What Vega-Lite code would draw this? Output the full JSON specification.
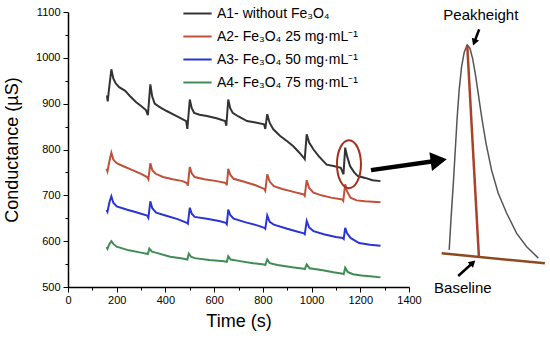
{
  "$schema": "https://vega.github.io/schema/vega-lite/v6.json",
  "width": 341,
  "height": 275,
  "autosize": {"type": "none"},
  "padding": {"left": 68, "top": 12, "right": 141, "bottom": 51},
  "background": "white",
  "config": {"font": "Liberation Sans", "view": {"stroke": null}},
  "datasets": {
    "main": [
      {"s":"A1","t":160,"c":918},{"s":"A1","t":163,"c":905},{"s":"A1","t":168,"c":930},{"s":"A1","t":178,"c":975},{"s":"A1","t":186,"c":955},{"s":"A1","t":195,"c":945},{"s":"A1","t":210,"c":936},{"s":"A1","t":235,"c":928},{"s":"A1","t":255,"c":916},{"s":"A1","t":280,"c":903},{"s":"A1","t":300,"c":895},{"s":"A1","t":320,"c":886},{"s":"A1","t":328,"c":875},{"s":"A1","t":338,"c":942},{"s":"A1","t":346,"c":915},{"s":"A1","t":356,"c":900},{"s":"A1","t":375,"c":893},{"s":"A1","t":405,"c":884},{"s":"A1","t":430,"c":877},{"s":"A1","t":460,"c":869},{"s":"A1","t":485,"c":862},{"s":"A1","t":490,"c":845},{"s":"A1","t":500,"c":909},{"s":"A1","t":508,"c":890},{"s":"A1","t":518,"c":880},{"s":"A1","t":540,"c":876},{"s":"A1","t":570,"c":873},{"s":"A1","t":610,"c":868},{"s":"A1","t":645,"c":862},{"s":"A1","t":650,"c":852},{"s":"A1","t":658,"c":909},{"s":"A1","t":666,"c":890},{"s":"A1","t":676,"c":880},{"s":"A1","t":700,"c":872},{"s":"A1","t":735,"c":862},{"s":"A1","t":770,"c":859},{"s":"A1","t":805,"c":855},{"s":"A1","t":810,"c":845},{"s":"A1","t":818,"c":877},{"s":"A1","t":828,"c":858},{"s":"A1","t":843,"c":844},{"s":"A1","t":870,"c":830},{"s":"A1","t":900,"c":818},{"s":"A1","t":925,"c":807},{"s":"A1","t":950,"c":793},{"s":"A1","t":968,"c":782},{"s":"A1","t":972,"c":779},{"s":"A1","t":980,"c":833},{"s":"A1","t":990,"c":815},{"s":"A1","t":1008,"c":800},{"s":"A1","t":1030,"c":785},{"s":"A1","t":1062,"c":767},{"s":"A1","t":1090,"c":764},{"s":"A1","t":1120,"c":760},{"s":"A1","t":1131,"c":746},{"s":"A1","t":1138,"c":804},{"s":"A1","t":1146,"c":785},{"s":"A1","t":1158,"c":764},{"s":"A1","t":1175,"c":750},{"s":"A1","t":1190,"c":742},{"s":"A1","t":1220,"c":738},{"s":"A1","t":1250,"c":733},{"s":"A1","t":1283,"c":731},
      {"s":"A2","t":158,"c":758},{"s":"A2","t":162,"c":752},{"s":"A2","t":170,"c":775},{"s":"A2","t":178,"c":793},{"s":"A2","t":186,"c":778},{"s":"A2","t":200,"c":770},{"s":"A2","t":225,"c":764},{"s":"A2","t":260,"c":756},{"s":"A2","t":300,"c":747},{"s":"A2","t":325,"c":740},{"s":"A2","t":330,"c":735},{"s":"A2","t":338,"c":770},{"s":"A2","t":346,"c":755},{"s":"A2","t":360,"c":747},{"s":"A2","t":390,"c":740},{"s":"A2","t":430,"c":735},{"s":"A2","t":470,"c":731},{"s":"A2","t":488,"c":727},{"s":"A2","t":492,"c":721},{"s":"A2","t":500,"c":762},{"s":"A2","t":508,"c":748},{"s":"A2","t":520,"c":740},{"s":"A2","t":560,"c":735},{"s":"A2","t":610,"c":731},{"s":"A2","t":648,"c":727},{"s":"A2","t":652,"c":722},{"s":"A2","t":658,"c":758},{"s":"A2","t":666,"c":745},{"s":"A2","t":680,"c":736},{"s":"A2","t":720,"c":730},{"s":"A2","t":770,"c":722},{"s":"A2","t":806,"c":714},{"s":"A2","t":810,"c":710},{"s":"A2","t":818,"c":746},{"s":"A2","t":828,"c":730},{"s":"A2","t":845,"c":720},{"s":"A2","t":880,"c":714},{"s":"A2","t":930,"c":707},{"s":"A2","t":968,"c":702},{"s":"A2","t":972,"c":699},{"s":"A2","t":980,"c":733},{"s":"A2","t":990,"c":716},{"s":"A2","t":1008,"c":706},{"s":"A2","t":1040,"c":700},{"s":"A2","t":1080,"c":695},{"s":"A2","t":1126,"c":691},{"s":"A2","t":1130,"c":688},{"s":"A2","t":1138,"c":724},{"s":"A2","t":1146,"c":708},{"s":"A2","t":1160,"c":695},{"s":"A2","t":1185,"c":689},{"s":"A2","t":1220,"c":687},{"s":"A2","t":1283,"c":685},
      {"s":"A3","t":158,"c":668},{"s":"A3","t":162,"c":664},{"s":"A3","t":170,"c":685},{"s":"A3","t":178,"c":698},{"s":"A3","t":186,"c":684},{"s":"A3","t":200,"c":676},{"s":"A3","t":240,"c":669},{"s":"A3","t":280,"c":663},{"s":"A3","t":325,"c":656},{"s":"A3","t":330,"c":651},{"s":"A3","t":338,"c":687},{"s":"A3","t":346,"c":672},{"s":"A3","t":362,"c":662},{"s":"A3","t":400,"c":656},{"s":"A3","t":450,"c":648},{"s":"A3","t":488,"c":640},{"s":"A3","t":492,"c":638},{"s":"A3","t":500,"c":673},{"s":"A3","t":508,"c":660},{"s":"A3","t":520,"c":653},{"s":"A3","t":570,"c":649},{"s":"A3","t":620,"c":644},{"s":"A3","t":648,"c":640},{"s":"A3","t":652,"c":637},{"s":"A3","t":658,"c":669},{"s":"A3","t":666,"c":657},{"s":"A3","t":680,"c":649},{"s":"A3","t":730,"c":641},{"s":"A3","t":780,"c":634},{"s":"A3","t":806,"c":629},{"s":"A3","t":810,"c":627},{"s":"A3","t":818,"c":656},{"s":"A3","t":828,"c":642},{"s":"A3","t":845,"c":636},{"s":"A3","t":900,"c":627},{"s":"A3","t":940,"c":621},{"s":"A3","t":968,"c":617},{"s":"A3","t":972,"c":615},{"s":"A3","t":980,"c":644},{"s":"A3","t":990,"c":630},{"s":"A3","t":1008,"c":622},{"s":"A3","t":1050,"c":615},{"s":"A3","t":1100,"c":609},{"s":"A3","t":1128,"c":607},{"s":"A3","t":1132,"c":605},{"s":"A3","t":1138,"c":629},{"s":"A3","t":1146,"c":617},{"s":"A3","t":1160,"c":607},{"s":"A3","t":1195,"c":596},{"s":"A3","t":1240,"c":592},{"s":"A3","t":1283,"c":590},
      {"s":"A4","t":158,"c":587},{"s":"A4","t":162,"c":583},{"s":"A4","t":170,"c":594},{"s":"A4","t":178,"c":600},{"s":"A4","t":186,"c":594},{"s":"A4","t":200,"c":588},{"s":"A4","t":250,"c":580},{"s":"A4","t":300,"c":575},{"s":"A4","t":328,"c":572},{"s":"A4","t":334,"c":584},{"s":"A4","t":345,"c":577},{"s":"A4","t":360,"c":575},{"s":"A4","t":420,"c":566},{"s":"A4","t":470,"c":562},{"s":"A4","t":490,"c":560},{"s":"A4","t":496,"c":573},{"s":"A4","t":505,"c":566},{"s":"A4","t":520,"c":563},{"s":"A4","t":580,"c":559},{"s":"A4","t":640,"c":556},{"s":"A4","t":652,"c":555},{"s":"A4","t":658,"c":567},{"s":"A4","t":668,"c":560},{"s":"A4","t":700,"c":557},{"s":"A4","t":760,"c":552},{"s":"A4","t":805,"c":549},{"s":"A4","t":810,"c":548},{"s":"A4","t":818,"c":560},{"s":"A4","t":828,"c":552},{"s":"A4","t":860,"c":548},{"s":"A4","t":920,"c":543},{"s":"A4","t":968,"c":540},{"s":"A4","t":972,"c":539},{"s":"A4","t":980,"c":549},{"s":"A4","t":992,"c":541},{"s":"A4","t":1040,"c":537},{"s":"A4","t":1090,"c":532},{"s":"A4","t":1128,"c":529},{"s":"A4","t":1132,"c":528},{"s":"A4","t":1138,"c":542},{"s":"A4","t":1148,"c":533},{"s":"A4","t":1170,"c":528},{"s":"A4","t":1205,"c":525},{"s":"A4","t":1250,"c":523},{"s":"A4","t":1283,"c":521}
    ],
    "inset": [
      {"t":1565,"c":581},{"t":1573,"c":653},{"t":1582,"c":726},{"t":1590,"c":799},{"t":1598,"c":872},{"t":1606,"c":930},{"t":1616,"c":981},{"t":1627,"c":1013},{"t":1639,"c":1028},{"t":1650,"c":1021},{"t":1661,"c":999},{"t":1672,"c":966},{"t":1684,"c":923},{"t":1698,"c":872},{"t":1716,"c":814},{"t":1739,"c":755},{"t":1766,"c":705},{"t":1801,"c":661},{"t":1842,"c":617},{"t":1883,"c":588},{"t":1931,"c":563}
    ],
    "notes": [
      {"part":"bigArrow","t":1244,"c":755,"t2":1522,"c2":776},
      {"part":"peakArrow","t":1688,"c":1062,"t2":1668,"c2":1034},
      {"part":"baseArrow","t":1602,"c":524,"t2":1662,"c2":553},
      {"part":"peakLine","t":1639,"c":1028,"t2":1687,"c2":566},
      {"part":"baseLine","t":1534,"c":573.5,"t2":1958,"c2":551.7},
      {"part":"bigHead","t":1522,"c":776},
      {"part":"peakHead","t":1668,"c":1034},
      {"part":"baseHead","t":1662,"c":553},
      {"part":"ellipse","t":1153.5,"c":768},
      {"part":"label","t":1695,"c":1093,"text":"Peakheight"},
      {"part":"label","t":1621,"c":497,"text":"Baseline"}
    ]
  },
  "encoding": {
    "x": {
      "field": "t", "type": "quantitative",
      "scale": {"domain": [0, 1400], "nice": false, "zero": false},
      "axis": {
        "values": [0,100,200,300,400,500,600,700,800,900,1000,1100,1200,1300,1400],
        "format": "d",
        "labelExpr": "datum.value % 200 == 0 ? datum.label : ''",
        "tickSize": {"condition": {"test": "datum.value % 200 == 0", "value": 5}, "value": 3},
        "title": "Time (s)", "titleFontSize": 18, "titleFontWeight": "normal", "titleColor": "black", "titlePadding": 7,
        "labelFontSize": 11, "labelColor": "black", "labelPadding": 2, "labelOverlap": false, "labelFlush": false,
        "domainColor": "black", "domainWidth": 1.5, "tickColor": "black", "tickWidth": 1, "grid": false
      }
    },
    "y": {
      "field": "c", "type": "quantitative",
      "scale": {"domain": [500, 1100], "nice": false, "zero": false},
      "axis": {
        "values": [500,550,600,650,700,750,800,850,900,950,1000,1050,1100],
        "format": "d",
        "labelExpr": "datum.value % 100 == 0 ? datum.label : ''",
        "tickSize": {"condition": {"test": "datum.value % 100 == 0", "value": 5}, "value": 3},
        "title": "Conductance (µS)", "titleFontSize": 18, "titleFontWeight": "normal", "titleColor": "black", "titlePadding": 14,
        "labelFontSize": 11, "labelColor": "black", "labelPadding": 3, "labelOverlap": false, "labelFlush": false,
        "domainColor": "black", "domainWidth": 1.5, "tickColor": "black", "tickWidth": 1, "grid": false
      }
    }
  },
  "layer": [
    {
      "data": {"name": "main"},
      "mark": {"type": "line", "strokeWidth": 2},
      "encoding": {
        "color": {
          "field": "s", "type": "nominal",
          "scale": {"domain": ["A1","A2","A3","A4"], "range": ["#333333","#c0503a","#2a34d4","#3f8c55"]},
          "legend": {
            "title": null, "orient": "none", "legendX": 114, "legendY": -14,
            "symbolType": "stroke", "symbolStrokeWidth": 2, "symbolSize": 800,
            "labelFontSize": 14, "labelColor": "black", "labelOffset": 4, "rowPadding": -8, "labelLimit": 0, "padding": 0,
            "labelExpr": "{'A1': 'A1- without Fe₃O₄', 'A2': 'A2- Fe₃O₄ 25 mg·mL⁻¹', 'A3': 'A3- Fe₃O₄ 50 mg·mL⁻¹', 'A4': 'A4- Fe₃O₄ 75 mg·mL⁻¹'}[datum.label]"
          }
        }
      }
    },
    {
      "data": {"name": "inset"},
      "mark": {"type": "line", "strokeWidth": 1.5, "color": "#555555"},
      "encoding": {}
    },
    {
      "data": {"name": "notes"},
      "transform": [{"filter": "datum.part == 'baseLine'"}],
      "mark": {"type": "rule", "strokeWidth": 2.5, "color": "#8d4a1f"},
      "encoding": {"x2": {"field": "t2"}, "y2": {"field": "c2"}}
    },
    {
      "data": {"name": "notes"},
      "transform": [{"filter": "datum.part == 'peakLine'"}],
      "mark": {"type": "rule", "strokeWidth": 2.5, "color": "#a8432a"},
      "encoding": {"x2": {"field": "t2"}, "y2": {"field": "c2"}}
    },
    {
      "data": {"name": "notes"},
      "transform": [{"filter": "datum.part == 'bigArrow'"}],
      "mark": {"type": "rule", "strokeWidth": 4.5, "color": "black"},
      "encoding": {"x2": {"field": "t2"}, "y2": {"field": "c2"}}
    },
    {
      "data": {"name": "notes"},
      "transform": [{"filter": "datum.part == 'peakArrow' || datum.part == 'baseArrow'"}],
      "mark": {"type": "rule", "strokeWidth": 2.5, "color": "black"},
      "encoding": {"x2": {"field": "t2"}, "y2": {"field": "c2"}}
    },
    {
      "data": {"name": "notes"},
      "transform": [{"filter": "datum.part == 'bigHead'"}],
      "mark": {"type": "point", "shape": "triangle-up", "angle": 82, "size": 350, "filled": true, "color": "black", "opacity": 1}
    },
    {
      "data": {"name": "notes"},
      "transform": [{"filter": "datum.part == 'peakHead'"}],
      "mark": {"type": "point", "shape": "triangle-up", "angle": 201, "size": 60, "filled": true, "color": "black", "opacity": 1}
    },
    {
      "data": {"name": "notes"},
      "transform": [{"filter": "datum.part == 'baseHead'"}],
      "mark": {"type": "point", "shape": "triangle-up", "angle": 47, "size": 60, "filled": true, "color": "black", "opacity": 1}
    },
    {
      "data": {"name": "notes"},
      "transform": [{"filter": "datum.part == 'ellipse'"}],
      "mark": {"type": "point", "shape": "M0.5,0C0.5,0.552,0.276,1,0,1C-0.276,1,-0.5,0.552,-0.5,0C-0.5,-0.552,-0.276,-1,0,-1C0.276,-1,0.5,-0.552,0.5,0Z", "size": 2304, "filled": false, "stroke": "#a3301c", "strokeWidth": 2, "opacity": 1}
    },
    {
      "data": {"name": "notes"},
      "transform": [{"filter": "datum.part == 'label'"}],
      "mark": {"type": "text", "fontSize": 15, "color": "black", "align": "center", "baseline": "middle"},
      "encoding": {"text": {"field": "text"}}
    }
  ]
}
